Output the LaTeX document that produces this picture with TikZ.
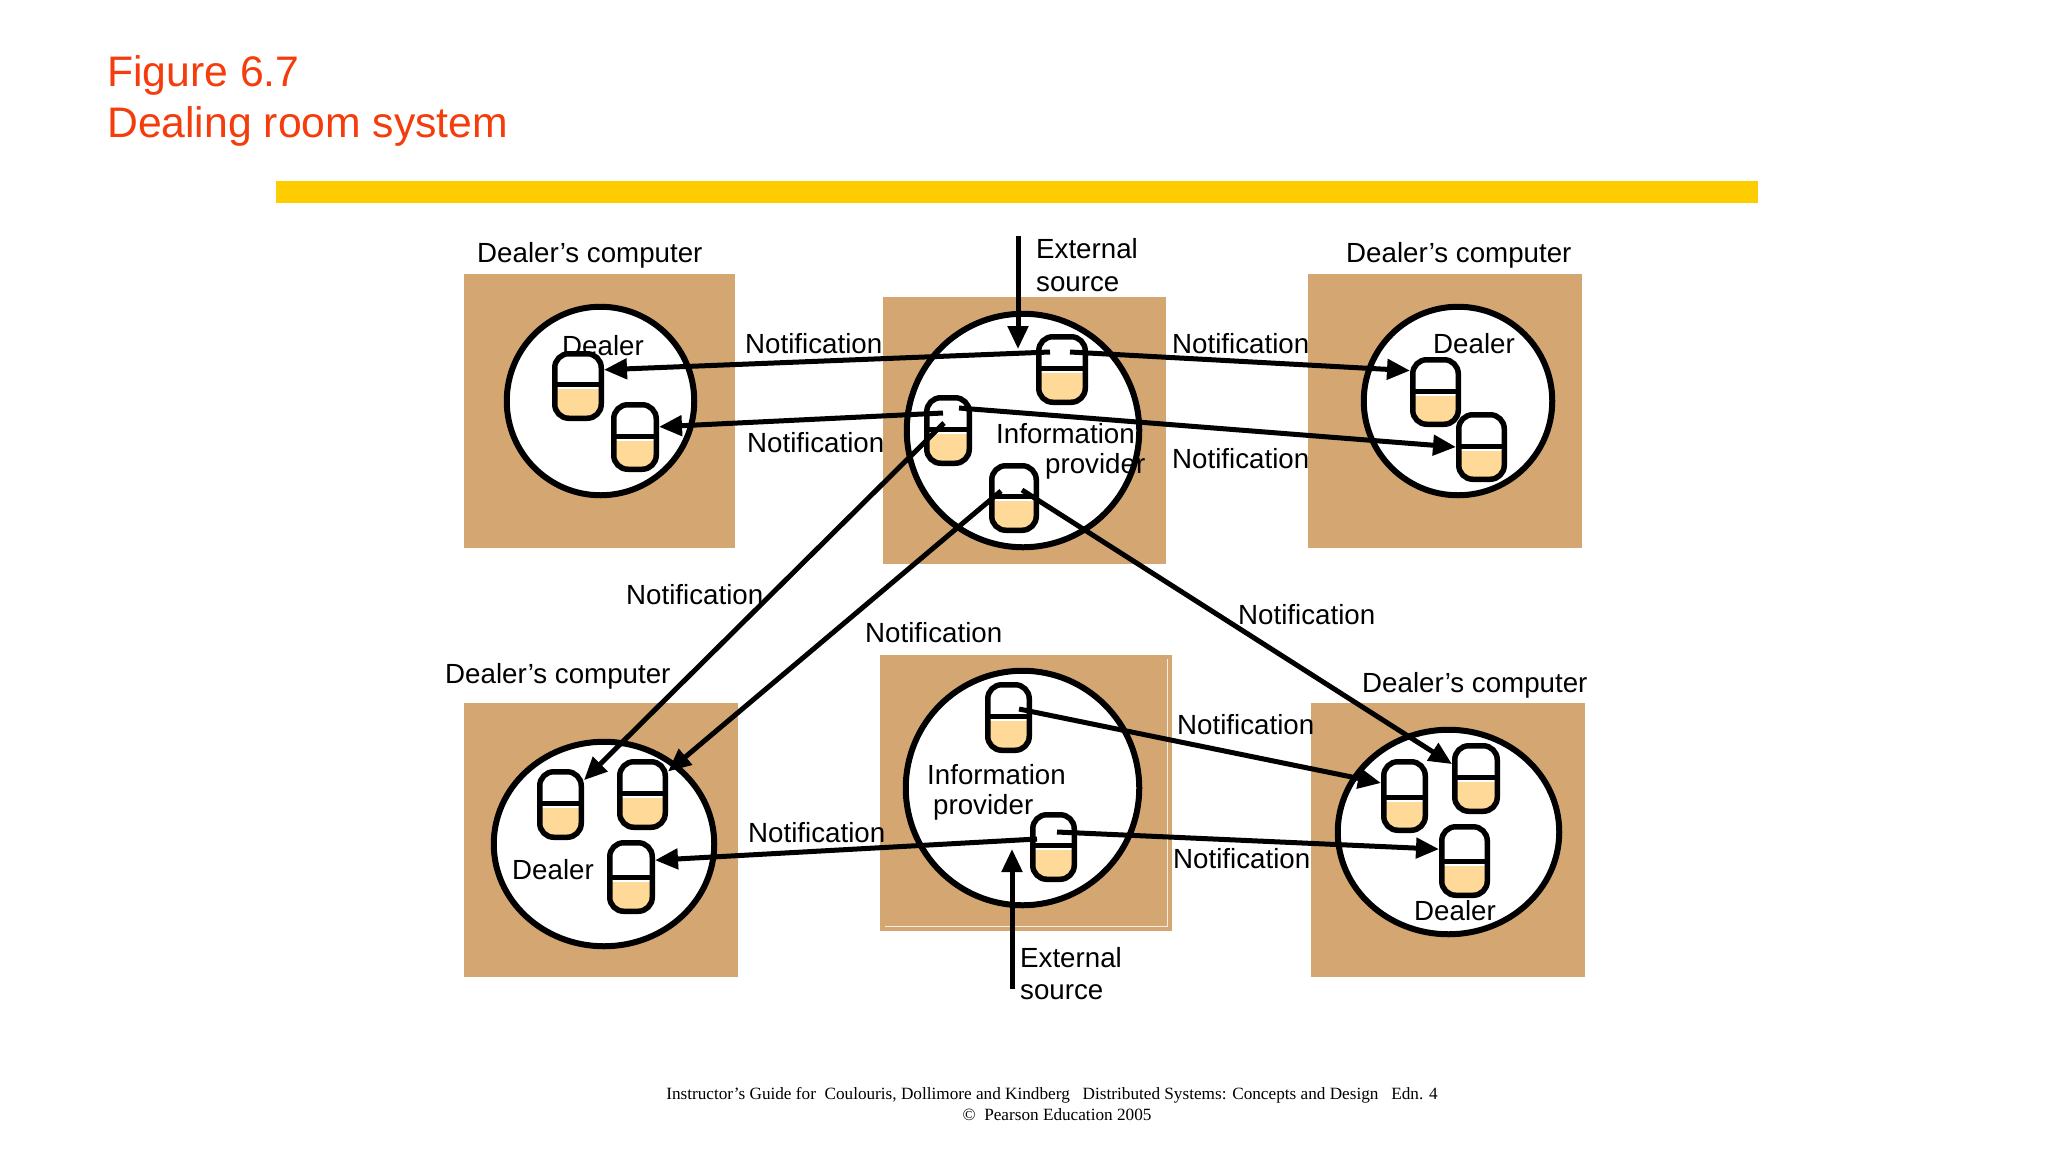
\documentclass[tikz,border=0pt]{standalone}
\usepackage{fontspec}
\setmainfont{Liberation Sans}
\newfontfamily\footfont{Liberation Serif}
\usetikzlibrary{arrows.meta,calc,shapes.geometric}
\definecolor{boxfill}{HTML}{D4A772}
\definecolor{capfill}{HTML}{FFD997}
\definecolor{titlered}{HTML}{F53C0C}
\definecolor{barcol}{HTML}{FFCC00}
\tikzset{
  compbox/.style={fill=boxfill,draw=none,inner sep=0pt,outer sep=0pt},
  proc/.style={ellipse,draw=black,line width=6pt,fill=white,inner sep=0pt},
  capsule/.style={draw=black,line width=5.5pt,fill=white,rounded corners=14pt,inner sep=0pt},
  conn/.style={draw=black,line width=5pt,-{Triangle[length=23pt,width=20pt]}},
  lbl/.style={font=\fontsize{27.7}{30}\selectfont,anchor=base west,inner sep=0pt,text=black},
  titletxt/.style={font=\fontsize{42.7}{44}\selectfont,anchor=base west,inner sep=0pt,text=titlered},
  foot/.style={font=\footfont\fontsize{17.2}{18}\selectfont,anchor=base,inner sep=0pt,text=black},
}
% name, x1, x2, y1, y2, ydivider
\newcommand\capnode[6]{%
  \pgfmathsetmacro\capX{(#2+#3)/2}%
  \pgfmathsetmacro\capY{(#4+#5)/2}%
  \pgfmathsetmacro\capW{#3-#2-5.5}%
  \pgfmathsetmacro\capH{#5-#4-5.5}%
  \pgfmathsetmacro\capD{#6-\capY}%
  \pgfmathsetmacro\capF{#6-\capY+5}%
  \node[capsule,minimum width=\capW pt,minimum height=\capH pt,
    path picture={
      \fill[capfill] ($(path picture bounding box.center)+(-60,\capF)$) rectangle ($(path picture bounding box.center)+(60,60)$);
      \draw[black,line width=5pt] ($(path picture bounding box.center)+(-60,\capD)$) -- ($(path picture bounding box.center)+(60,\capD)$);
    }] (#1) at (\capX,\capY) {};}
% name, x1, x2, y1, y2
\newcommand\boxnode[5]{%
  \pgfmathsetmacro\capX{(#2+#3)/2}%
  \pgfmathsetmacro\capY{(#4+#5)/2}%
  \pgfmathsetmacro\capW{#3-#2}%
  \pgfmathsetmacro\capH{#5-#4}%
  \node[compbox,minimum width=\capW pt,minimum height=\capH pt] (#1) at (\capX,\capY) {};}
% name, x1, x2, y1, y2 (outer extents)
\newcommand\procnode[5]{%
  \pgfmathsetmacro\capX{(#2+#3)/2}%
  \pgfmathsetmacro\capY{(#4+#5)/2}%
  \pgfmathsetmacro\capW{#3-#2-3.5}%
  \pgfmathsetmacro\capH{#5-#4-3.5}%
  \node[proc,minimum width=\capW pt,minimum height=\capH pt] (#1) at (\capX,\capY) {};}
\begin{document}
\begin{tikzpicture}[x=1pt,y=-1pt]
\useasboundingbox (0,0) rectangle (2048,1152);
\fill[white] (0,0) rectangle (2048,1152);
% title and bar
\node[titletxt] (t1) at (107,86) {Figure 6.7};
\node[titletxt] (t2) at (107,137) {Dealing room system};
\fill[barcol] (276,181) rectangle (1758,203);
% machines
\boxnode{bTL}{464}{735}{274}{548}
\boxnode{bTC}{883}{1166}{297}{564}
\boxnode{bTR}{1308}{1582}{274}{548}
\boxnode{bBL}{464}{738}{703}{977}
\boxnode{bBC}{880}{1172}{655}{931}
\boxnode{bBR}{1311}{1585}{703}{977}
\draw[white!80!boxfill,line width=1pt] (885,926) -- (1167,926) -- (1167,659);
% processes
\procnode{cTL}{505}{696}{305}{497}
\procnode{cTC}{905}{1141}{312}{549}
\procnode{cTR}{1362}{1554}{305}{497}
\procnode{cBL}{492}{716}{740}{948}
\procnode{cBC}{904}{1141}{669}{907}
\procnode{cBR}{1336}{1561}{728}{936}
% labels
\node[lbl] (l1) at (477,262) {Dealer’s computer};
\node[lbl] (l2) at (1346,262) {Dealer’s computer};
\node[lbl] (l3) at (445,683) {Dealer’s computer};
\node[lbl] (l4) at (1362,692) {Dealer’s computer};
\node[lbl] (d1) at (562,355) {Dealer};
\node[lbl] (d2) at (1433,353) {Dealer};
\node[lbl] (d3) at (512,879) {Dealer};
\node[lbl] (d4) at (1414,920) {Dealer};
\node[lbl] (n1) at (745,353) {Notification};
\node[lbl] (n2) at (747,452) {Notification};
\node[lbl] (n3) at (1172,353) {Notification};
\node[lbl] (n4) at (1172,468) {Notification};
\node[lbl] (n5) at (626,604) {Notification};
\node[lbl] (n6) at (865,642) {Notification};
\node[lbl] (n7) at (1238,624) {Notification};
\node[lbl] (n8) at (1177,734) {Notification};
\node[lbl] (n9) at (748,842) {Notification};
\node[lbl] (n10) at (1173,868) {Notification};
\node[lbl] (e1) at (1036,258) {External};
\node[lbl] (e2) at (1036,291) {source};
\node[lbl] (e3) at (1020,967) {External};
\node[lbl] (e4) at (1020,999) {source};
\node[lbl] (i1) at (996,443) {Information};
\node[lbl] (i2) at (1045,473) {provider};
\node[lbl] (i3) at (927,784) {Information};
\node[lbl] (i4) at (933,814) {provider};
% capsules
\capnode{kTL1}{552}{604}{351}{421}{384}
\capnode{kTL2}{611}{659}{402}{472}{436}
\capnode{kTC1}{1036}{1088}{334}{405}{368}
\capnode{kTC2}{924}{972}{395}{466}{429}
\capnode{kTC3}{989}{1039}{463}{533}{496}
\capnode{kTR1}{1410}{1461}{357}{427}{391}
\capnode{kTR2}{1456}{1507}{412}{482}{446}
\capnode{kBL1}{537}{584}{769}{840}{803}
\capnode{kBL2}{617}{668}{759}{830}{793}
\capnode{kBL3}{607}{655}{840}{914}{877}
\capnode{kBC1}{985}{1032}{682}{753}{716}
\capnode{kBC2}{1030}{1077}{812}{882}{845}
\capnode{kBR1}{1381}{1428}{759}{833}{797}
\capnode{kBR2}{1452}{1500}{743}{814}{777}
\capnode{kBR3}{1439}{1490}{824}{898}{861}
% connector ends
\coordinate (a1) at (1050,352);
\coordinate (a2) at (1070,352);
\coordinate (a3) at (943,413);
\coordinate (a4) at (959,408);
\coordinate (a5) at (944,423);
\coordinate (a6) at (1001,491);
\coordinate (a7) at (1022,490);
\coordinate (a8) at (1019,709);
\coordinate (a9) at (1037,839);
\coordinate (a10) at (1057,832);
\coordinate (x1) at (1018,236);
\coordinate (x2) at (1018,349);
\coordinate (x3) at (1012,989);
\coordinate (x4) at (1012,849);
% connectors
\draw[conn] (x1) -- (x2);
\draw[conn] (x3) -- (x4);
\draw[conn] (a1) -- (kTL1.32);
\draw[conn] (a2) -- (kTR1.140);
\draw[conn] (a3) -- (kTL2.23);
\draw[conn] (a4) -- (kTR2.180);
\draw[conn] (a5) -- (kBL1.46);
\draw[conn] (a6) -- (kBL2.42);
\draw[conn] (a7) -- (kBR2.149);
\draw[conn] (a8) -- (kBR1.151);
\draw[conn] (a9) -- (kBL3.35);
\draw[conn] (a10) -- (kBR3.155);
% footer
\node[foot] (f1) at (1052,1099) {Instructor’s Guide for\ \ Coulouris, Dollimore and Kindberg\ \ \ Distributed Systems: Concepts and Design\ \ \ Edn. 4};
\node[foot] (f2) at (1057,1120) {©\ \ Pearson Education 2005};
\end{tikzpicture}
\end{document}
